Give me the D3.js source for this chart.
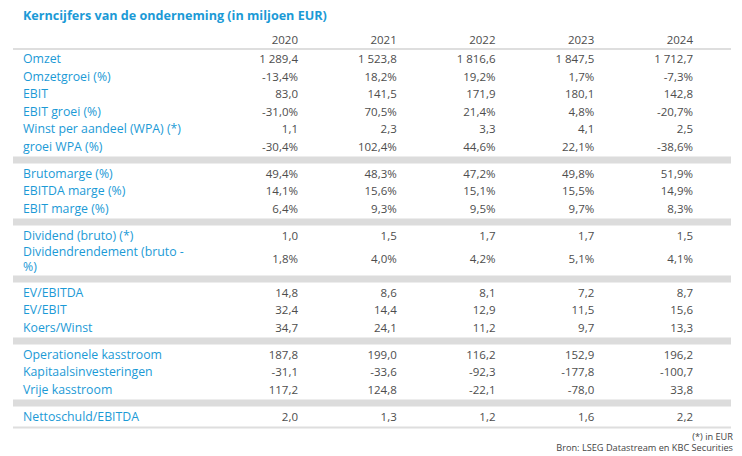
<!DOCTYPE html>
<html><head><meta charset="utf-8">
<script src="https://cdn.jsdelivr.net/npm/d3@7"></script>
<style>
html,body{margin:0;padding:0;background:#fff;}
svg{display:block;font-family:"Open Sans",sans-serif;}
</style></head>
<body><svg id="c" width="742" height="456"></svg>
<script>
const title = "Kerncijfers van de onderneming (in miljoen EUR)";
const years = ["2020","2021","2022","2023","2024"];
const rowLabels = ["Omzet","Omzetgroei (%)","EBIT","EBIT groei (%)","Winst per aandeel (WPA) (*)","groei WPA (%)",
  "Brutomarge (%)","EBITDA marge (%)","EBIT marge (%)",
  "Dividend (bruto) (*)","Dividendrendement (bruto -\n%)",
  "EV/EBITDA","EV/EBIT","Koers/Winst",
  "Operationele kasstroom","Kapitaalsinvesteringen","Vrije kasstroom",
  "Nettoschuld/EBITDA"];
const isPercent = [0,1,0,1,0,1, 1,1,1, 0,1, 0,0,0, 0,0,0, 0];
const groupSizes = [6,3,2,3,3,1];
const values2020 = [1289.4,-13.4,83.0,-31.0,1.1,-30.4, 49.4,14.1,6.4, 1.0,1.8, 14.8,32.4,34.7, 187.8,-31.1,117.2, 2.0];
const values2021 = [1523.8,18.2,141.5,70.5,2.3,102.4, 48.3,15.6,9.3, 1.5,4.0, 8.6,14.4,24.1, 199.0,-33.6,124.8, 1.3];
const values2022 = [1816.6,19.2,171.9,21.4,3.3,44.6, 47.2,15.1,9.5, 1.7,4.2, 8.1,12.9,11.2, 116.2,-92.3,-22.1, 1.2];
const values2023 = [1847.5,1.7,180.1,4.8,4.1,22.1, 49.8,15.5,9.7, 1.7,5.1, 7.2,11.5,9.7, 152.9,-177.8,-78.0, 1.6];
const values2024 = [1712.7,-7.3,142.8,-20.7,2.5,-38.6, 51.9,14.9,8.3, 1.5,4.1, 8.7,15.6,13.3, 196.2,-100.7,33.8, 2.2];
const footnotes = ["(*) in EUR","Bron: LSEG Datastream en KBC Securities"];

const seriesValues = [values2020,values2021,values2022,values2023,values2024];

const BLUE = "#1b9ad6", NUM = "#4d4d4d", BAND = "#dcdcdc";
const loc = d3.formatLocale({decimal:",", thousands:" ", grouping:[3], currency:["","€"], minus:"-"});
const fmt = loc.format(",.1f");

const svg = d3.select("#c");
const left = 13, right = 731, labelX = 23;
const x = d3.scalePoint().domain(years).range([298, 693]);

svg.append("text").attr("x", labelX).attr("y", 16).attr("dy","0.35em")
  .attr("fill", BLUE).attr("font-weight", 700).attr("font-size", 12.6).text(title);

// header
svg.selectAll("text.yr").data(years).join("text").attr("class","yr")
  .attr("x", d => x(d)).attr("y", 40).attr("dy","0.35em").attr("text-anchor","end")
  .attr("fill", NUM).attr("font-size", 11.5).text(d => d);

// layout rows
const rowH = 17.5, lineH = 12.5, pad = 1.25, bandH = 7;
const headerLineY = 49;
svg.append("rect").attr("x", left).attr("y", headerLineY - 1).attr("width", right-left).attr("height", 2).attr("fill", "#dedede");

let y = headerLineY;
const rows = [];
let idx = 0;
groupSizes.forEach((g, gi) => {
  y += pad;
  for (let k = 0; k < g; k++, idx++) {
    const lines = rowLabels[idx].split("\n");
    const h = rowH + (lines.length - 1) * lineH;
    rows.push({i: idx, lines, cy: y + h/2});
    y += h;
  }
  y += pad;
  if (gi < groupSizes.length - 1) {
    svg.append("rect").attr("x", left).attr("y", y).attr("width", right-left).attr("height", bandH).attr("fill", BAND);
    y += bandH;
  }
});
svg.append("rect").attr("x", left).attr("y", y).attr("width", right-left).attr("height", 2).attr("fill", "#dedede");

const rg = svg.selectAll("g.row").data(rows).join("g").attr("class","row");
rg.each(function(r){
  const g = d3.select(this);
  const t = g.append("text").attr("x", labelX).attr("fill", BLUE).attr("font-size", 12.3);
  const n = r.lines.length;
  r.lines.forEach((ln, j) => {
    t.append("tspan").attr("x", labelX)
      .attr("y", r.cy + (j - (n-1)/2) * 15).attr("dy","0.35em").text(ln);
  });
  years.forEach((yr, c) => {
    const v = seriesValues[c][r.i];
    g.append("text").attr("x", x(yr)).attr("y", r.cy).attr("dy","0.35em")
      .attr("text-anchor","end").attr("fill", NUM).attr("font-size", 11.5)
      .text(fmt(v) + (isPercent[r.i] ? "%" : ""));
  });
});

footnotes.forEach((f, j) => {
  svg.append("text").attr("x", 733).attr("y", y + 10 + j*11.5).attr("dy","0.35em")
    .attr("text-anchor","end").attr("fill", "#444").attr("font-size", 9.2)
    .attr("font-family", "'Liberation Sans Narrow','Open Sans',sans-serif").text(f);
});
</script></body></html>
